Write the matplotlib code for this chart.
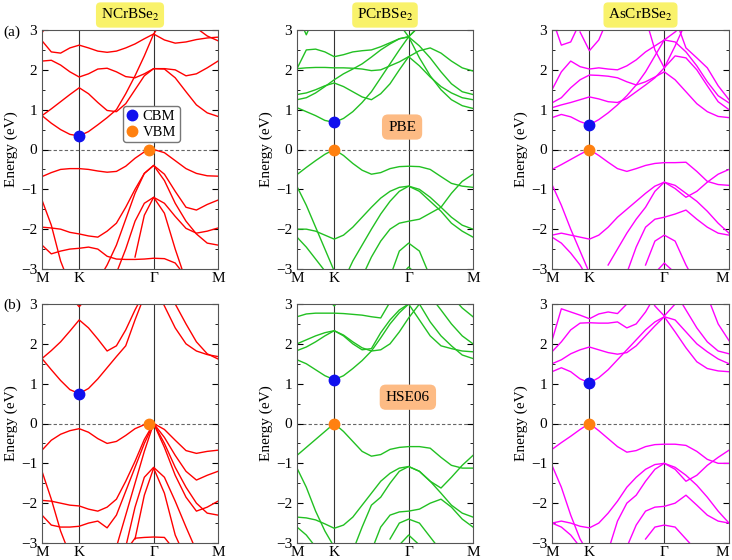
import matplotlib
matplotlib.use('Agg')
import matplotlib.pyplot as plt
from matplotlib.lines import Line2D
from matplotlib.ticker import MultipleLocator

plt.rcParams['font.family'] = ['Liberation Serif', 'DejaVu Serif']
plt.rcParams['mathtext.fontset'] = 'stix'

n = float('nan')

# k-path M-K-Gamma-M (M-K = 1, K-Gamma = 2, Gamma-M = sqrt(3))
K_PTS = [0, 0.25, 0.5, 0.75, 1, 1.25, 1.5, 1.75, 2, 2.25, 2.5, 2.75, 3, 3.29, 3.58, 3.87, 4.15, 4.44, 4.73]
K_TICKS = [0, 1, 3, 4.73]
K_LABELS = ['M', 'K', 'Γ', 'M']

MATERIALS = ['NCrBSe$_2$', 'PCrBSe$_2$', 'AsCrBSe$_2$']
COLORS = ['#ff0000', '#22c022', '#ff00ff']

# ---- NCrBSe2, PBE ----
N_PBE = [
    [2.93, 3.3, 3.6, n, n, n, n, n, n, n, n, n, n, n, 3.5, 3.3, 3.05, 2.85, 2.73],
    [2.73, 2.45, 2.42, 2.55, 2.62, 2.55, 2.47, 2.44, 2.47, 2.55, 2.65, 2.78, 2.9, 2.75, 2.67, 2.7, 2.76, 2.8, 2.82],
    [2.22, 2.24, 2.12, 1.95, 1.82, 1.9, 2.02, 2.04, 1.95, 1.83, 1.8, 1.9, 2.03, 2.03, 2.0, 1.85, 1.9, 2.05, 2.22],
    [0.85, 1.02, 1.2, 1.38, 1.55, 1.4, 1.18, 0.98, 0.95, 1.15, 1.5, 1.85, 2.03, 2.02, 1.8, 1.45, 1.12, 0.92, 0.83],
    [0.85, 0.66, 0.5, 0.38, 0.34, 0.45, 0.62, 0.8, 1.0, 1.4, 1.85, 2.35, 2.9, 3.3, 3.6, n, n, n, n],
    [-0.68, -0.58, -0.5, -0.48, -0.48, -0.5, -0.54, -0.57, -0.55, -0.42, -0.22, -0.06, 0.0, -0.08, -0.28, -0.48, -0.6, -0.66, -0.67],
    [-1.95, -1.97, -2.0, -2.08, -2.12, -2.17, -2.2, -2.05, -1.85, -1.45, -1.0, -0.6, -0.4, -0.62, -1.05, -1.45, -1.52, -1.38, -1.27],
    [n, n, n, n, n, n, -3.3, -2.9, -2.4, -1.75, -1.1, -0.6, -0.4, -0.78, -1.35, -1.8, -2.12, -2.35, -2.4],
    [n, n, n, n, n, n, n, n, -3.1, -2.5, -1.8, -1.35, -1.2, -1.35, -1.68, -1.98, -2.1, -2.05, -1.97],
    [n, n, n, n, n, n, n, n, n, n, -2.7, -1.65, -1.2, -1.6, -2.5, -3.3, n, n, n],
    [-1.27, -1.9, -2.8, -3.4, n, n, n, n, n, n, n, n, n, n, n, n, n, n, n],
    [-2.4, -2.62, -2.55, -2.5, -2.48, -2.45, -2.5, -2.68, -2.75, -2.76, -2.76, -2.75, -2.73, -2.74, -2.85, -3.2, n, n, n],
]

# ---- PCrBSe2, PBE ----
P_PBE = [
    [3.4, 2.88, 3.4, n, n, n, n, n, n, n, n, n, n, n, n, n, n, n, n],
    [2.03, 2.5, 2.52, 2.45, 2.33, 2.38, 2.45, 2.48, 2.5, 2.58, 2.68, 2.78, 2.83, 2.6, 2.3, 1.95, 1.65, 1.45, 1.38],
    [2.03, 2.05, 2.06, 2.06, 2.05, 2.05, 2.04, 2.02, 1.98, 2.0, 2.1, 2.2, 2.33, 2.48, 2.55, 2.42, 2.22, 2.05, 1.97],
    [1.38, 1.42, 1.5, 1.6, 1.67, 1.58, 1.45, 1.32, 1.25, 1.4, 1.65, 2.0, 2.33, 2.1, 1.82, 1.58, 1.42, 1.3, 1.25],
    [1.25, 1.3, 1.42, 1.58, 1.75, 1.9, 2.02, 2.15, 2.32, 2.5, 2.65, 2.78, 2.83, 3.1, 3.4, n, n, n, n],
    [1.05, 0.95, 0.85, 0.73, 0.68, 0.78, 0.95, 1.18, 1.45, 1.8, 2.15, 2.5, 2.83, 2.3, 1.85, 1.5, 1.25, 1.1, 1.03],
    [n, n, n, n, n, n, n, n, n, n, 3.6, 3.15, 2.83, 3.1, 3.5, n, n, n, n],
    [-0.63, -0.45, -0.28, -0.12, 0.0, -0.15, -0.35, -0.52, -0.62, -0.58, -0.48, -0.43, -0.42, -0.43, -0.5, -0.68, -0.85, -0.92, -0.95],
    [-0.93, -1.4, -1.95, -2.5, -3.05, n, n, n, n, n, n, n, n, n, n, n, n, n, n],
    [-2.0, -2.0, -2.05, -2.15, -2.25, -2.15, -1.95, -1.7, -1.45, -1.22, -1.05, -0.95, -0.92, -1.0, -1.2, -1.45, -1.7, -1.9, -2.0],
    [-2.2, -2.45, -2.75, -3.05, n, n, n, n, n, n, n, n, n, n, n, n, n, n, n],
    [n, n, n, n, n, -3.3, -2.8, -2.4, -2.0, -1.62, -1.3, -1.05, -0.92, -1.05, -1.3, -1.55, -1.85, -2.05, -2.2],
    [n, n, n, n, n, n, n, -3.2, -2.7, -2.3, -2.0, -1.85, -1.8, -1.75, -1.6, -1.45, -1.1, -0.8, -0.62],
    [n, n, n, n, n, n, n, n, n, n, -3.2, -2.55, -2.35, -2.55, -3.2, n, n, n, n],
    [n, n, n, n, n, n, n, n, n, n, n, -3.2, -2.95, -3.2, n, n, n, n, n],
]

# ---- AsCrBSe2, PBE ----
AS_PBE = [
    [3.3, 2.62, 2.7, 3.2, n, n, n, n, n, n, n, n, n, n, n, n, n, n, n],
    [n, n, n, 2.95, 2.48, 2.75, 3.3, n, n, n, n, n, n, n, n, n, n, n, n],
    [1.5, 1.95, 2.22, 2.08, 2.02, 2.05, 2.02, 2.0, 2.1, 2.25, 2.45, 2.6, 2.75, 2.7, 2.45, 2.1, 1.7, 1.35, 1.17],
    [1.17, 1.3, 1.55, 1.75, 1.87, 1.86, 1.84, 1.8, 1.7, 1.62, 1.7, 1.82, 1.95, 1.75, 1.45, 1.15, 0.95, 0.83, 0.8],
    [1.05, 1.12, 1.18, 1.25, 1.32, 1.27, 1.2, 1.18, 1.28, 1.45, 1.62, 1.8, 2.05, 2.35, 2.3, 2.0, 1.6, 1.2, 1.0],
    [0.8, 0.88, 0.82, 0.7, 0.62, 0.75, 0.92, 1.12, 1.35, 1.62, 1.95, 2.35, 2.75, 2.95, 3.2, 3.5, n, n, n],
    [n, n, n, n, n, n, n, n, n, n, 3.3, 2.5, 2.05, 2.6, 3.2, n, n, n, n],
    [n, n, n, n, n, n, n, n, n, n, n, n, 3.6, 3.3, 2.55, 2.3, 2.05, 1.6, 1.25],
    [-0.5, -0.38, -0.25, -0.12, 0.0, -0.15, -0.32, -0.48, -0.55, -0.48, -0.4, -0.35, -0.33, -0.33, -0.32, -0.55, -0.8, -0.88, -0.9],
    [-0.88, -1.4, -2.0, -2.55, -3.1, n, n, n, n, n, n, n, n, n, n, n, n, n, n],
    [-2.15, -2.1, -2.15, -2.2, -2.25, -2.15, -1.95, -1.7, -1.5, -1.3, -1.1, -0.92, -0.82, -0.9, -1.1, -1.3, -1.55, -1.85, -2.1],
    [-2.2, -2.35, -2.6, -2.9, -3.3, n, n, n, n, n, n, n, n, n, n, n, n, n, n],
    [n, n, n, n, n, n, -2.9, -2.5, -2.1, -1.75, -1.45, -1.05, -0.82, -0.98, -1.2, -1.05, -0.82, -0.62, -0.5],
    [n, n, n, n, n, n, n, n, -3.1, -2.45, -1.95, -1.75, -1.7, -1.62, -1.52, -1.75, -1.95, -2.1, -2.15],
    [n, n, n, n, n, n, n, n, n, n, -2.9, -2.3, -2.15, -2.3, -2.9, -3.4, n, n, n],
    [n, n, n, n, n, n, n, n, n, n, n, -3.1, -2.85, -3.1, n, n, n, n, n],
]

# ---- NCrBSe2, HSE06 ----
N_HSE = [
    [n, n, n, 3.2, 2.93, 3.2, n, n, n, n, n, n, n, n, n, n, n, n, n],
    [1.63, 1.83, 2.05, 2.32, 2.6, 2.4, 2.12, 1.82, 1.95, 2.35, 2.85, 3.3, n, n, n, n, n, n, n],
    [1.63, 1.35, 1.08, 0.85, 0.75, 0.88, 1.12, 1.4, 1.68, 1.95, 2.6, 3.2, n, n, n, n, n, n, n],
    [n, n, n, n, n, n, n, n, n, n, n, n, 3.5, 2.95, 2.4, 2.0, 1.82, 1.73, 1.68],
    [n, n, n, n, n, n, n, n, n, n, n, n, n, 3.5, 3.0, 2.5, 2.05, 1.75, 1.62],
    [-0.67, -0.42, -0.27, -0.18, -0.13, -0.22, -0.38, -0.5, -0.45, -0.3, -0.13, -0.03, 0.0, -0.15, -0.42, -0.68, -0.75, -0.7, -0.67],
    [-1.93, -1.95, -2.0, -2.05, -2.07, -2.15, -2.2, -2.1, -1.9, -1.45, -0.95, -0.4, 0.0, -0.35, -0.8, -1.2, -1.42, -1.3, -1.2],
    [-2.3, -2.55, -2.6, -2.6, -2.58, -2.5, -2.45, -2.62, -2.3, -1.7, -1.1, -0.5, 0.0, -0.5, -1.1, -1.6, -2.0, -2.25, -2.3],
    [n, n, n, n, n, n, n, n, -3.1, -2.3, -1.5, -0.7, 0.0, -0.6, -1.3, -1.85, -2.2, -2.1, -1.95],
    [n, n, n, n, n, n, n, n, n, -3.1, -2.1, -1.35, -1.1, -1.35, -1.95, -2.6, -3.2, n, n],
    [n, n, n, n, n, n, n, n, n, n, -2.9, -1.8, -1.12, -1.75, -2.8, -3.4, n, n, n],
    [-1.2, -1.9, -2.7, -3.3, n, n, n, n, n, n, n, n, n, n, n, n, n, n, n],
    [n, n, n, n, n, n, n, n, n, -3.2, -2.88, -2.86, -2.85, -2.86, -3.2, n, n, n, n],
]

# ---- PCrBSe2, HSE06 ----
P_HSE = [
    [n, n, n, 3.2, 2.95, 3.2, n, n, n, n, n, n, n, n, n, n, n, n, n],
    [2.68, 2.75, 2.77, 2.77, 2.77, 2.76, 2.74, 2.72, 2.68, 2.65, 3.05, 3.4, n, n, n, n, n, n, n],
    [2.0, 2.1, 2.2, 2.28, 2.33, 2.2, 2.0, 1.85, 1.88, 2.28, 2.6, 2.85, 3.0, 2.6, 2.2, 1.95, 1.88, 1.82, 1.8],
    [1.83, 1.92, 2.05, 2.2, 2.33, 2.22, 2.05, 1.9, 1.82, 1.85, 2.0, 2.3, 2.65, 3.0, 3.2, 2.85, 2.5, 2.2, 2.0],
    [1.6, 1.5, 1.35, 1.2, 1.1, 1.2, 1.38, 1.58, 1.82, 2.15, 2.5, 2.78, 3.0, 3.0, 2.55, 2.2, 1.95, 1.72, 1.63],
    [n, n, n, n, n, n, n, n, n, n, n, n, n, n, n, n, 3.2, 2.9, 2.68],
    [-0.8, -0.6, -0.4, -0.2, 0.0, -0.2, -0.45, -0.7, -0.82, -0.78, -0.65, -0.6, -0.58, -0.58, -0.62, -0.85, -1.05, -1.12, -1.12],
    [-1.12, -1.6, -2.2, -2.7, -3.1, n, n, n, n, n, n, n, n, n, n, n, n, n, n],
    [-2.35, -2.37, -2.42, -2.52, -2.63, -2.55, -2.35, -2.05, -1.75, -1.45, -1.25, -1.12, -1.08, -1.2, -1.45, -1.75, -2.05, -2.25, -2.35],
    [-2.6, -2.8, -3.1, -3.4, n, n, n, n, n, n, n, n, n, n, n, n, n, n, n],
    [n, n, n, n, n, n, -3.2, -2.6, -2.05, -1.85, -1.5, -1.2, -1.08, -1.2, -1.45, -1.62, -1.35, -1.05, -0.8],
    [n, n, n, n, n, n, n, n, -3.2, -2.6, -2.3, -2.22, -2.2, -2.15, -2.0, -1.9, -2.1, -2.4, -2.6],
    [n, n, n, n, n, n, n, n, n, n, -2.9, -2.5, -2.4, -2.5, -2.85, -3.2, n, n, n],
    [n, n, n, n, n, n, n, n, n, n, n, -3.05, -2.8, -3.05, n, n, n, n, n],
]

# ---- AsCrBSe2, HSE06 ----
AS_HSE = [
    [2.08, 2.88, 2.8, 2.72, 2.63, 2.75, 2.8, 2.76, 3.0, 3.4, n, n, n, n, n, n, 3.2, 2.5, 2.08],
    [1.8, 2.05, 2.35, 2.52, 2.53, 2.52, 2.52, 2.55, 2.4, 2.5, 2.8, 3.2, n, 3.3, 2.85, 2.4, 2.05, 1.82, 1.75],
    [1.5, 1.6, 1.75, 1.85, 1.92, 1.85, 1.78, 1.74, 1.78, 1.95, 2.2, 2.45, 2.68, 2.6, 2.3, 2.0, 1.8, 1.62, 1.5],
    [1.3, 1.4, 1.3, 1.12, 1.02, 1.15, 1.35, 1.6, 1.85, 2.1, 2.35, 2.55, 2.68, 2.3, 1.9, 1.55, 1.38, 1.32, 1.3],
    [n, n, n, n, n, n, n, n, n, n, 3.4, 2.95, 2.7, 3.0, 3.4, n, n, n, n],
    [-0.65, -0.48, -0.32, -0.15, 0.0, -0.18, -0.38, -0.58, -0.72, -0.68, -0.58, -0.53, -0.52, -0.52, -0.55, -0.7, -0.9, -1.0, -1.0],
    [-1.05, -1.6, -2.3, -2.9, -3.3, n, n, n, n, n, n, n, n, n, n, n, n, n, n],
    [-2.5, -2.45, -2.5, -2.58, -2.62, -2.5, -2.25, -1.95, -1.6, -1.35, -1.15, -1.03, -1.0, -1.1, -1.3, -1.55, -1.85, -2.2, -2.5],
    [-2.5, -2.6, -2.8, -3.1, n, n, n, n, n, n, n, n, n, n, n, n, n, n, n],
    [n, n, n, n, n, n, -3.2, -2.45, -2.0, -1.8, -1.45, -1.15, -1.0, -1.15, -1.45, -1.3, -1.05, -0.85, -0.67],
    [n, n, n, n, n, n, n, n, -3.1, -2.55, -2.2, -2.1, -2.08, -2.0, -1.8, -2.05, -2.3, -2.45, -2.5],
    [n, n, n, n, n, n, n, n, n, n, -2.9, -2.6, -2.55, -2.6, -2.9, -3.2, n, n, n],
]

BANDS = [[N_PBE, P_PBE, AS_PBE], [N_HSE, P_HSE, AS_HSE]]

# band edges (k, E)
CBM = [[(1, 0.34), (1, 0.68), (1, 0.62)], [(1, 0.75), (1, 1.1), (1, 1.02)]]
VBM = [[(2.88, 0.0), (1, 0.0), (1, 0.0)], [(2.88, 0.0), (1, 0.0), (1, 0.0)]]

METHODS = ['PBE', 'HSE06']

fig = plt.figure(figsize=(7.32, 5.6), dpi=100)
W, H = 732.0, 560.0
col_left = [42, 297, 552]
col_width = [176, 176, 177]
row_top = [30, 304]
row_h = 239

axes = []
for r in range(2):
    for c in range(3):
        ax = fig.add_axes([col_left[c] / W, 1 - (row_top[r] + row_h) / H,
                           col_width[c] / W, row_h / H])
        for band in BANDS[r][c]:
            ax.plot(K_PTS, band, color=COLORS[c], lw=1.0, zorder=2)
        ax.axvline(1, color='#333333', lw=0.8, zorder=1)
        ax.axvline(3, color='#333333', lw=0.8, zorder=1)
        ax.axhline(0, color='#666666', lw=0.8, ls=(0, (3, 2)), zorder=1)
        ax.plot(*CBM[r][c], 'o', color='#1010ee', ms=7.5, zorder=4)
        ax.plot(*VBM[r][c], 'o', color='#ff8010', ms=7.5, zorder=4)
        ax.set_xlim(0, 4.73)
        ax.set_ylim(-3, 3)
        ax.set_xticks(K_TICKS)
        ax.set_xticklabels(K_LABELS, fontsize=11)
        ax.tick_params(axis='x', length=0, pad=2)
        if c == 2:
            ax.get_xticklabels()[-1].set_ha('right')
        ax.yaxis.set_major_locator(MultipleLocator(1))
        ax.yaxis.set_minor_locator(MultipleLocator(0.5))
        ax.tick_params(axis='y', which='both', direction='in', right=True, labelsize=11)
        ax.tick_params(axis='y', which='major', length=4)
        ax.tick_params(axis='y', which='minor', length=2)
        ax.set_ylabel('Energy (eV)', fontsize=11, labelpad=2)
        for sp in ax.spines.values():
            sp.set_color('#555555')
        axes.append(ax)

# material titles
for c in range(3):
    xc = (col_left[c] + col_width[c] / 2) / W
    fig.text(xc, 1 - 15 / H, MATERIALS[c], ha='center', va='center', fontsize=11,
             bbox=dict(boxstyle='round,pad=0.3', fc='#f9f26a', ec='none'))

fig.text(3 / W, 1 - 32 / H, '(a)', fontsize=11, va='center')
fig.text(3 / W, 1 - 305 / H, '(b)', fontsize=11, va='center')

# method labels
axes[1].text(0.597, 0.594, METHODS[0], transform=axes[1].transAxes, ha='center', va='center',
             fontsize=11, bbox=dict(boxstyle='round,pad=0.4', fc='#fdbb84', ec='none'), zorder=5)
axes[4].text(0.63, 0.61, METHODS[1], transform=axes[4].transAxes, ha='center', va='center',
             fontsize=11, bbox=dict(boxstyle='round,pad=0.4', fc='#fdbb84', ec='none'), zorder=5)

handles = [Line2D([], [], ls='none', marker='o', color='#1010ee', ms=7.5),
           Line2D([], [], ls='none', marker='o', color='#ff8010', ms=7.5)]
leg = axes[0].legend(handles, ['CBM', 'VBM'], loc='upper left', bbox_to_anchor=(0.46, 0.68),
                     fontsize=10.5, handlelength=0.8, handletextpad=0.3, borderpad=0.25,
                     labelspacing=0.15, borderaxespad=0, fancybox=True, framealpha=1)
leg.get_frame().set_edgecolor('#777777')
leg.set_zorder(6)

fig.savefig('out.png', dpi=100)
